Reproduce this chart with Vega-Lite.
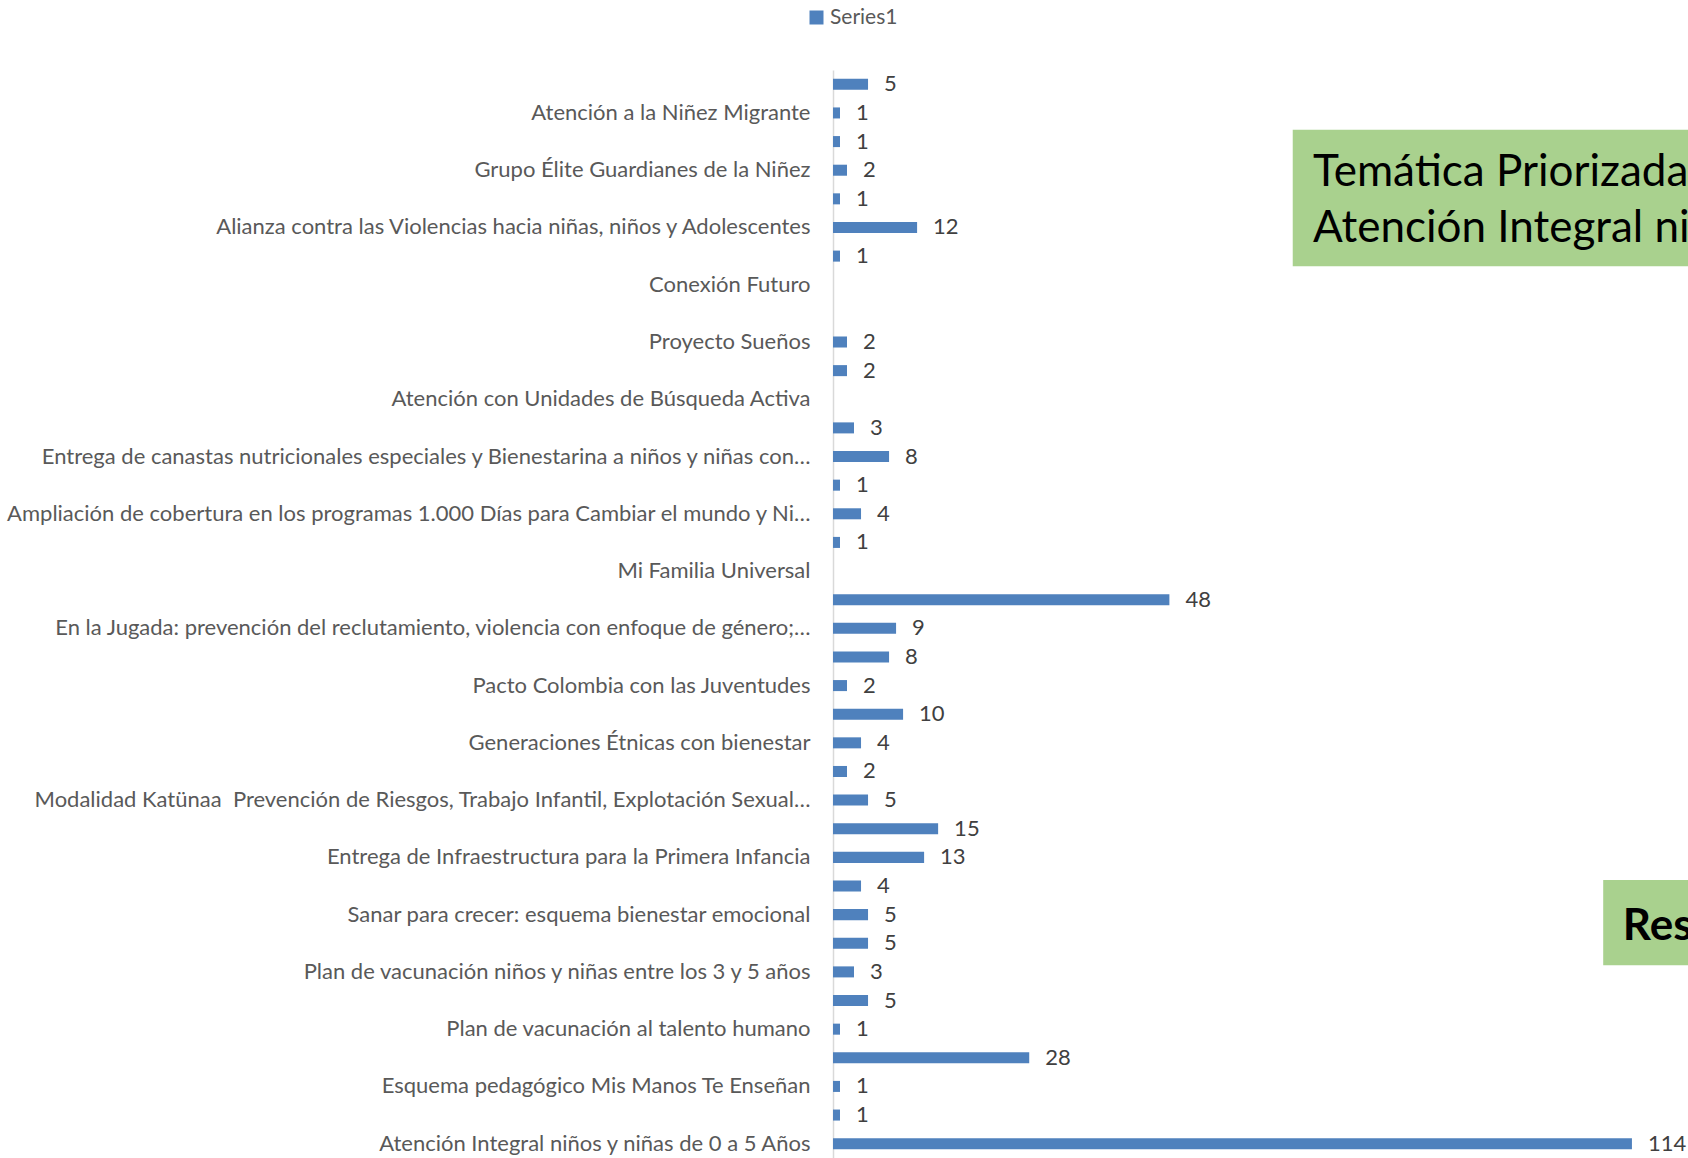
{
  "$schema": "https://vega.github.io/schema/vega-lite/v6.json",
  "width": 855,
  "height": 1088,
  "autosize": "none",
  "padding": {"left": 833, "top": 70, "right": 0, "bottom": 0},
  "background": "white",
  "config": {"view": {"stroke": null}, "font": "Lato"},
  "data": {"values": [
    {"programa": "Sin etiqueta 1", "valor": 5},
    {"programa": "Atención a la Niñez Migrante", "valor": 1},
    {"programa": "Sin etiqueta 2", "valor": 1},
    {"programa": "Grupo Élite Guardianes de la Niñez", "valor": 2},
    {"programa": "Sin etiqueta 3", "valor": 1},
    {"programa": "Alianza contra las Violencias hacia niñas, niños y Adolescentes", "valor": 12},
    {"programa": "Sin etiqueta 4", "valor": 1},
    {"programa": "Conexión Futuro", "valor": null},
    {"programa": "Sin etiqueta 5", "valor": null},
    {"programa": "Proyecto Sueños", "valor": 2},
    {"programa": "Sin etiqueta 6", "valor": 2},
    {"programa": "Atención con Unidades de Búsqueda Activa", "valor": null},
    {"programa": "Sin etiqueta 7", "valor": 3},
    {"programa": "Entrega de canastas nutricionales especiales y Bienestarina a niños y niñas con…", "valor": 8},
    {"programa": "Sin etiqueta 8", "valor": 1},
    {"programa": "Ampliación de cobertura en los programas 1.000 Días para Cambiar el mundo y Ni…", "valor": 4},
    {"programa": "Sin etiqueta 9", "valor": 1},
    {"programa": "Mi Familia Universal", "valor": null},
    {"programa": "Sin etiqueta 10", "valor": 48},
    {"programa": "En la Jugada: prevención del reclutamiento, violencia con enfoque de género;…", "valor": 9},
    {"programa": "Sin etiqueta 11", "valor": 8},
    {"programa": "Pacto Colombia con las Juventudes", "valor": 2},
    {"programa": "Sin etiqueta 12", "valor": 10},
    {"programa": "Generaciones Étnicas con bienestar", "valor": 4},
    {"programa": "Sin etiqueta 13", "valor": 2},
    {"programa": "Modalidad Katünaa\u00a0 Prevención de Riesgos, Trabajo Infantil, Explotación Sexual…", "valor": 5},
    {"programa": "Sin etiqueta 14", "valor": 15},
    {"programa": "Entrega de Infraestructura para la Primera Infancia", "valor": 13},
    {"programa": "Sin etiqueta 15", "valor": 4},
    {"programa": "Sanar para crecer: esquema bienestar emocional", "valor": 5},
    {"programa": "Sin etiqueta 16", "valor": 5},
    {"programa": "Plan de vacunación niños y niñas entre los 3 y 5 años", "valor": 3},
    {"programa": "Sin etiqueta 17", "valor": 5},
    {"programa": "Plan de vacunación al talento humano", "valor": 1},
    {"programa": "Sin etiqueta 18", "valor": 28},
    {"programa": "Esquema pedagógico Mis Manos Te Enseñan", "valor": 1},
    {"programa": "Sin etiqueta 19", "valor": 1},
    {"programa": "Atención Integral niños y niñas de 0 a 5 Años", "valor": 114}
  ]},
  "layer": [
    {
      "encoding": {
        "y": {
          "field": "programa",
          "type": "nominal",
          "sort": null,
          "scale": {
            "paddingInner": 0.615,
            "paddingOuter": 0.3075,
            "domain": [
              "Sin etiqueta 1", "Atención a la Niñez Migrante", "Sin etiqueta 2", "Grupo Élite Guardianes de la Niñez", "Sin etiqueta 3",
              "Alianza contra las Violencias hacia niñas, niños y Adolescentes", "Sin etiqueta 4", "Conexión Futuro", "Sin etiqueta 5", "Proyecto Sueños",
              "Sin etiqueta 6", "Atención con Unidades de Búsqueda Activa", "Sin etiqueta 7", "Entrega de canastas nutricionales especiales y Bienestarina a niños y niñas con…", "Sin etiqueta 8",
              "Ampliación de cobertura en los programas 1.000 Días para Cambiar el mundo y Ni…", "Sin etiqueta 9", "Mi Familia Universal", "Sin etiqueta 10", "En la Jugada: prevención del reclutamiento, violencia con enfoque de género;…",
              "Sin etiqueta 11", "Pacto Colombia con las Juventudes", "Sin etiqueta 12", "Generaciones Étnicas con bienestar", "Sin etiqueta 13",
              "Modalidad Katünaa\u00a0 Prevención de Riesgos, Trabajo Infantil, Explotación Sexual…", "Sin etiqueta 14", "Entrega de Infraestructura para la Primera Infancia", "Sin etiqueta 15", "Sanar para crecer: esquema bienestar emocional",
              "Sin etiqueta 16", "Plan de vacunación niños y niñas entre los 3 y 5 años", "Sin etiqueta 17", "Plan de vacunación al talento humano", "Sin etiqueta 18",
              "Esquema pedagógico Mis Manos Te Enseñan", "Sin etiqueta 19", "Atención Integral niños y niñas de 0 a 5 Años"
            ]
          },
          "axis": {
            "title": null,
            "ticks": false,
            "domainColor": "#D9D9D9",
            "domainWidth": 1.5,
            "labelPadding": 23,
            "labelFont": "Lato",
            "labelFontSize": 22,
            "labelColor": "#595959",
            "labelLimit": 1000,
            "labelExpr": "test(/^Sin etiqueta/, datum.label) ? '' : datum.label"
          }
        },
        "x": {
          "field": "valor",
          "type": "quantitative",
          "scale": {"domain": [0, 122], "nice": false, "zero": true},
          "axis": null
        }
      },
      "layer": [
        {
          "mark": {"type": "bar", "color": "#4F81BD"},
          "encoding": {
            "color": {
              "datum": "Series1",
              "type": "nominal",
              "scale": {"range": ["#4F81BD"]},
              "legend": {
                "title": null,
                "orient": "none",
                "legendX": -27,
                "legendY": -63,
                "symbolType": "square",
                "symbolSize": 196,
                "symbolStrokeWidth": 0,
                "labelFont": "Lato",
                "labelFontSize": 21,
                "labelColor": "#595959",
                "labelOffset": 3
              }
            }
          }
        },
        {
          "mark": {"type": "text", "align": "left", "baseline": "middle", "dx": 16, "font": "Lato", "fontSize": 22, "color": "#404040"},
          "encoding": {"text": {"field": "valor", "type": "quantitative"}}
        }
      ]
    },
    {
      "data": {"values": [{"linea1": "Temática Priorizada", "linea2": "Atención Integral niños y niñas de 0 a 5 Años", "recuadro": "Res"}]},
      "encoding": {},
      "layer": [
        {
          "mark": {"type": "rect", "color": "#A9D18E", "clip": true},
          "encoding": {
            "x": {"datum": 65.6, "type": "quantitative"},
            "x2": {"datum": 140},
            "y": {"datum": 2.09, "type": "quantitative", "scale": {"domain": [0, 38], "reverse": true, "nice": false, "zero": false}, "axis": null},
            "y2": {"datum": 6.85}
          }
        },
        {
          "mark": {"type": "text", "align": "left", "baseline": "alphabetic", "font": "Lato", "fontSize": 44, "color": "#000000", "clip": true},
          "encoding": {
            "x": {"datum": 68.5, "type": "quantitative"},
            "y": {"datum": 4.04, "type": "quantitative"},
            "text": {"field": "linea1"}
          }
        },
        {
          "mark": {"type": "text", "align": "left", "baseline": "alphabetic", "font": "Lato", "fontSize": 44, "color": "#000000", "clip": true},
          "encoding": {
            "x": {"datum": 68.5, "type": "quantitative"},
            "y": {"datum": 6.0, "type": "quantitative"},
            "text": {"field": "linea2"}
          }
        },
        {
          "mark": {"type": "rect", "color": "#A9D18E", "clip": true},
          "encoding": {
            "x": {"datum": 109.9, "type": "quantitative"},
            "x2": {"datum": 140},
            "y": {"datum": 28.29, "type": "quantitative"},
            "y2": {"datum": 31.27}
          }
        },
        {
          "mark": {"type": "text", "align": "left", "baseline": "alphabetic", "font": "Lato", "fontSize": 44, "fontWeight": "bold", "color": "#000000", "clip": true},
          "encoding": {
            "x": {"datum": 112.7, "type": "quantitative"},
            "y": {"datum": 30.4, "type": "quantitative"},
            "text": {"field": "recuadro"}
          }
        }
      ]
    }
  ],
  "resolve": {"scale": {"y": "independent"}, "axis": {"y": "independent"}}
}
